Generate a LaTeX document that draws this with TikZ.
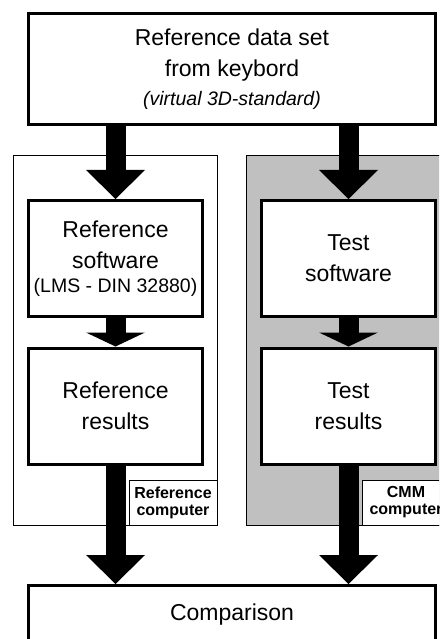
\documentclass[tikz,border=0pt]{standalone}
\usepackage{fontspec}
\setmainfont{Liberation Sans}
\usetikzlibrary{arrows.meta}
\definecolor{cmmgray}{RGB}{192,192,192}
\begin{document}
\begin{tikzpicture}[x=1pt,y=-1pt]
    \tikzstyle{box}=[draw,line width=3pt,fill=white,align=center,inner sep=0pt,font=\fontsize{23}{31}\selectfont]
    \tikzstyle{stepbox}=[box,minimum width=174pt,minimum height=116pt]
    \tikzstyle{frame}=[draw,line width=0.8pt,minimum width=204pt,minimum height=370pt]
    \tikzstyle{tag}=[draw,line width=0.8pt,fill=white,align=center,inner sep=0pt,minimum width=88pt,minimum height=45pt,font=\fontsize{16}{17}\bfseries\selectfont]
    \tikzstyle{bigarrow}=[line width=20pt,-{Triangle[width=59pt,length=29pt,line width=0pt]}]
    \tikzstyle{smallarrow}=[line width=20pt,-{Triangle[width=59pt,length=14pt,line width=0pt]}]
    \useasboundingbox (0,0) rectangle (439,639);
    \clip (0,0) rectangle (439,639);
    % the two computers
    \node[frame] (refpc) at (115,340) {};
    \node[frame,fill=cmmgray] (cmmpc) at (348,340) {};
    \node[tag,anchor=south east] (reftag) at (refpc.south east) {Reference\\computer};
    \node[tag,anchor=south east] (cmmtag) at (cmmpc.south east) {CMM\\computer};
    % boxes
    \node[box,minimum width=407pt,minimum height=111pt] (data) at (232,69) {Reference data set\\from keybord\\[-2pt]{\fontsize{19.5}{24}\itshape\selectfont (virtual 3D-standard)}};
    \node[stepbox] (refsw) at (115.5,258.5) {Reference\\software\\[-7pt]{\fontsize{19.5}{24}\selectfont (LMS - DIN 32880)}};
    \node[stepbox] (refres) at (115.5,406) {Reference\\results};
    \node[stepbox] (testsw) at (348.5,258.5) {Test\\software};
    \node[stepbox] (testres) at (348.5,406) {Test\\results};
    \node[box,minimum width=407pt,minimum height=58pt] (cmp) at (232,614.5) {Comparison};
    % arrows
    \draw[bigarrow] (data.south -| refsw.north) -- (refsw.north);
    \draw[bigarrow] (data.south -| testsw.north) -- (testsw.north);
    \draw[smallarrow] (refsw) -- (refres);
    \draw[smallarrow] (testsw) -- (testres);
    \draw[bigarrow] (refres) -- (cmp.north -| refres.south);
    \draw[bigarrow] (testres) -- (cmp.north -| testres.south);
\end{tikzpicture}
\end{document}
